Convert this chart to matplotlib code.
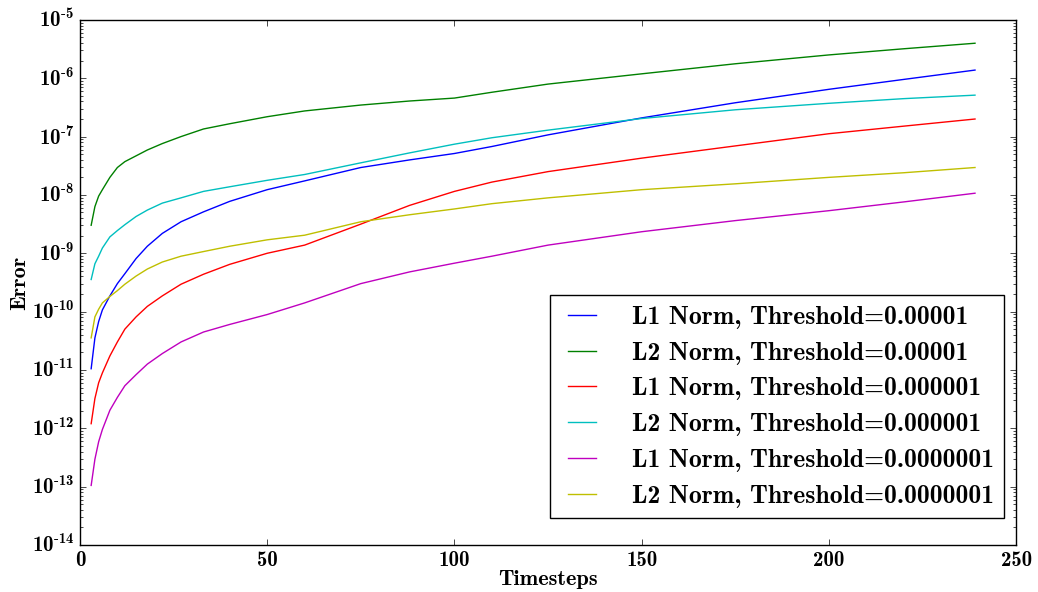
import numpy as np
import matplotlib
matplotlib.use('Agg')
import matplotlib.pyplot as plt
from matplotlib.ticker import LogLocator, FuncFormatter

# timesteps and errors
timesteps = [3, 4, 5, 6, 8, 10, 12, 15, 18, 22, 27, 33, 40, 50, 60, 75, 88, 100, 110, 125, 150, 175, 200, 220, 239]

l1_1e5 = [1.05e-11, 3.55e-11, 6.76e-11, 1.07e-10, 1.86e-10, 3.02e-10, 4.47e-10, 8.13e-10, 1.32e-9, 2.19e-9,
          3.47e-9, 5.13e-9, 7.76e-9, 1.23e-8, 1.74e-8, 2.95e-8, 3.98e-8, 5.13e-8, 6.76e-8, 1.07e-7,
          2.09e-7, 3.8e-7, 6.46e-7, 9.55e-7, 1.38e-6]
l2_1e5 = [3.02e-9, 6.31e-9, 9.55e-9, 1.23e-8, 2.0e-8, 2.95e-8, 3.72e-8, 4.68e-8, 5.89e-8, 7.59e-8,
          1.0e-7, 1.35e-7, 1.66e-7, 2.19e-7, 2.75e-7, 3.47e-7, 4.07e-7, 4.57e-7, 5.75e-7, 7.94e-7,
          1.19e-6, 1.77e-6, 2.51e-6, 3.2e-6, 3.98e-6]
l1_1e6 = [1.2e-12, 3.24e-12, 6.03e-12, 8.91e-12, 1.74e-11, 3.02e-11, 5.01e-11, 8.13e-11, 1.23e-10, 1.86e-10,
          2.95e-10, 4.37e-10, 6.46e-10, 1.0e-9, 1.38e-9, 3.16e-9, 6.61e-9, 1.15e-8, 1.66e-8, 2.51e-8,
          4.27e-8, 6.92e-8, 1.12e-7, 1.51e-7, 2.0e-7]
l2_1e6 = [3.55e-10, 6.61e-10, 8.91e-10, 1.23e-9, 1.91e-9, 2.45e-9, 3.09e-9, 4.27e-9, 5.5e-9, 7.24e-9,
          8.91e-9, 1.15e-8, 1.38e-8, 1.78e-8, 2.24e-8, 3.55e-8, 5.25e-8, 7.41e-8, 9.55e-8, 1.29e-7,
          2.04e-7, 2.88e-7, 3.72e-7, 4.47e-7, 5.13e-7]
l1_1e7 = [1.05e-13, 2.95e-13, 5.89e-13, 9.55e-13, 2.04e-12, 3.39e-12, 5.37e-12, 8.32e-12, 1.26e-11, 1.91e-11,
          3.02e-11, 4.47e-11, 6.03e-11, 8.91e-11, 1.41e-10, 3.02e-10, 4.79e-10, 6.76e-10, 8.91e-10, 1.38e-9,
          2.34e-9, 3.63e-9, 5.37e-9, 7.59e-9, 1.07e-8]
l2_1e7 = [3.55e-11, 8.13e-11, 1.1e-10, 1.41e-10, 1.82e-10, 2.29e-10, 2.95e-10, 4.07e-10, 5.37e-10, 7.08e-10,
          8.91e-10, 1.07e-9, 1.32e-9, 1.7e-9, 2.04e-9, 3.47e-9, 4.57e-9, 5.75e-9, 7.08e-9, 8.91e-9,
          1.23e-8, 1.55e-8, 2.0e-8, 2.4e-8, 2.95e-8]

labels = ['L1 Norm, Threshold=0.00001', 'L2 Norm, Threshold=0.00001',
          'L1 Norm, Threshold=0.000001', 'L2 Norm, Threshold=0.000001',
          'L1 Norm, Threshold=0.0000001', 'L2 Norm, Threshold=0.0000001']
series = [l1_1e5, l2_1e5, l1_1e6, l2_1e6, l1_1e7, l2_1e7]
colors = ['b', 'g', 'r', 'c', 'm', 'y']

plt.style.use('classic')
plt.rcParams['figure.facecolor'] = 'white'
plt.rcParams['font.family'] = ['cmb10', 'DejaVu Serif']
plt.rcParams['mathtext.fontset'] = 'cm'
plt.rcParams['mathtext.default'] = 'bf'
plt.rcParams['axes.unicode_minus'] = False


def pow10_label(v, pos):
    e = int(round(np.log10(v)))
    if e < 0:
        return r'$\mathdefault{10^{\text{-}%d}}$' % (-e)
    return r'$\mathdefault{10^{%d}}$' % e


fig = plt.figure(figsize=(10.38, 5.92), dpi=100)
ax = fig.add_axes([0.077, 0.0794, 0.902, 0.887])

for ys, c, lab in zip(series, colors, labels):
    ax.plot(timesteps, ys, color=c, lw=1.0, label=lab)

ax.set_yscale('log')
ax.set_xlim(0, 250)
ax.set_ylim(1e-14, 1e-5)
ax.yaxis.set_major_locator(LogLocator(base=10, numticks=20))
ax.yaxis.set_minor_locator(LogLocator(base=10, subs=np.arange(2, 10), numticks=20))
ax.yaxis.set_major_formatter(FuncFormatter(pow10_label))
ax.tick_params(labelsize=15)

ax.set_xlabel('Timesteps', fontsize=16, labelpad=0)
ax.set_ylabel('Error', fontsize=16, labelpad=2)

leg = ax.legend(loc='lower right', bbox_to_anchor=(0.987, 0.051), borderaxespad=0,
                fontsize=18.5, handlelength=1.7, handletextpad=1.1, numpoints=2)
leg.get_frame().set_edgecolor('black')

fig.savefig('out.png', dpi=100, facecolor='white')
